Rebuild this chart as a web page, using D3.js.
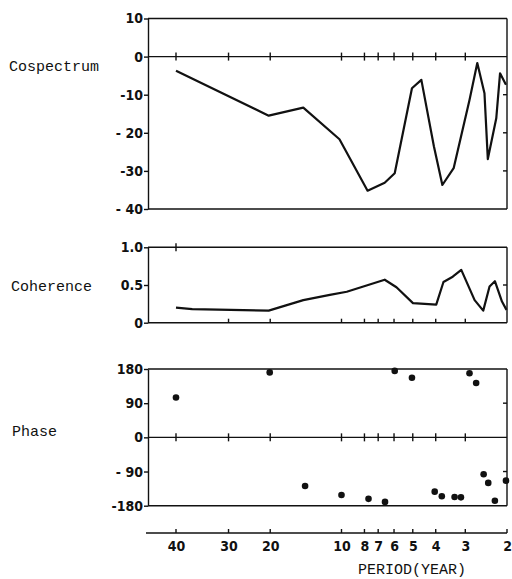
<!DOCTYPE html>
<html>
<head>
<meta charset="utf-8">
<script src="https://cdn.jsdelivr.net/npm/d3@7"></script>
<style>
  body { margin: 0; background: #fff; }
</style>
</head>
<body>
<div id="chart-container"></div>
<script>
// Period axis (log scale). The first printed tick "40" sits where period 50 falls on the log scale
const periodTicks = [50, 30, 20, 10, 8, 7, 6, 5, 4, 3, 2];
const periodLabels = ["40", "30", "20", "10", "8", "7", "6", "5", "4", "3", "2"];

// Cospectrum
const cospPeriod = [50, 20.3, 14.5, 10.2, 7.76, 6.57, 5.96, 5.04, 4.6, 4.07, 3.75, 3.36, 2.88, 2.67, 2.49, 2.41, 2.22, 2.14, 2.02];
const cospValue = [-3.7, -15.5, -13.4, -21.7, -35.2, -33.1, -30.6, -8.3, -6.1, -23.6, -33.7, -29.3, -11.4, -1.7, -9.6, -26.9, -16.2, -4.4, -7.4];
const cospTicks = [10, 0, -10, -20, -30, -40];
const cospTickLabels = ["10", "0", "-10", "- 20", "-30", "- 40"];

// Coherence
const cohPeriod = [50, 42.7, 20.3, 14.5, 11.2, 9.5, 7.72, 6.57, 5.86, 4.99, 3.98, 3.71, 3.39, 3.12, 2.74, 2.52, 2.37, 2.25, 2.10, 2.01];
const cohValue = [0.20, 0.18, 0.16, 0.30, 0.37, 0.41, 0.50, 0.57, 0.47, 0.26, 0.24, 0.54, 0.61, 0.70, 0.30, 0.16, 0.48, 0.55, 0.28, 0.17];
const cohTicks = [1, 0.5, 0];
const cohTickLabels = ["1.0", "0.5", "0"];

// Phase
const phasePeriod = [50, 20.1, 14.25, 10, 7.69, 6.55, 5.96, 5.04, 4.04, 3.77, 3.33, 3.13, 2.88, 2.70, 2.51, 2.40, 2.25, 2.02];
const phaseValue = [105, 171, -128, -152, -162, -170, 175, 157, -143, -155, -157, -158, 169, 143, -97, -120, -167, -114];
const phaseTicks = [180, 90, 0, -90, -180];
const phaseTickLabels = ["180", "90", "0", "- 90", "-180"];

const margin = { top: 0, right: 5, bottom: 0, left: 148 }
const width = 512 - margin.left - margin.right

const svg = d3.select("#chart-container")
  .append("svg")
  .attr("width", 512)
  .attr("height", 579)
  .append("g")
  .attr("transform", `translate(${margin.left},${margin.top})`);

const x = d3.scaleLog()
  .domain([50, 2])
  .range([28, width]);

const ink = "#111";
const frameW = 1.4;
const numFont = '"Liberation Sans Narrow", "DejaVu Sans Condensed", "DejaVu Sans", sans-serif';

function styleNums(g) {
  g.selectAll("text")
    .style("font-family", numFont)
    .style("font-weight", "bold")
    .style("font-stretch", "condensed")
    .style("font-size", "14px")
    .attr("fill", ink);
}

// short vertical ticks at chosen periods, from y1 to y2
function vTicks(values, y1, y2) {
  svg.append("g")
    .selectAll("line")
    .data(values)
    .enter().append("line")
    .attr("x1", d => x(d)).attr("x2", d => x(d))
    .attr("y1", y1).attr("y2", y2)
    .attr("stroke", ink).attr("stroke-width", 1.4);
}

// short horizontal ticks on the right edge, pointing inward
function rTicks(y, values) {
  svg.append("g")
    .selectAll("line")
    .data(values)
    .enter().append("line")
    .attr("x1", width - 4).attr("x2", width)
    .attr("y1", d => y(d)).attr("y2", d => y(d))
    .attr("stroke", ink).attr("stroke-width", 1.4);
}

function hLine(yy, x1) {
  svg.append("line")
    .attr("x1", x1 || 0).attr("x2", width)
    .attr("y1", yy).attr("y2", yy)
    .attr("stroke", ink).attr("stroke-width", frameW);
}

// one boxed panel with left labels, right inner ticks and a zero line with cross ticks
function panel(y, ticks, labels, rightTicks, zero, title, pos) {
  const [y0, y1] = y.range();

  // left axis
  svg.append("g")
    .call(d3.axisLeft(y).tickValues(ticks).tickFormat((d, i) => labels[i])
      .tickSizeInner(4).tickSizeOuter(0).tickPadding(1))
    .call(styleNums)
    .call(g => g.selectAll("line, path").attr("stroke", ink).attr("stroke-width", frameW));

  // right edge
  svg.append("line")
    .attr("x1", width).attr("x2", width)
    .attr("y1", y0).attr("y2", y1)
    .attr("stroke", ink).attr("stroke-width", frameW);
  rTicks(y, rightTicks);

  // top and bottom frame lines
  hLine(y0);
  hLine(y1);

  if (zero !== null) {
    hLine(y(zero));
    vTicks(periodTicks.slice(0, -1), y(zero) - 4, y(zero) + 4);
  }

  // panel title on the left
  svg.append("text")
    .attr("x", pos[0] - margin.left)
    .attr("y", pos[1])
    .style("font-family", '"Liberation Mono", "DejaVu Sans Mono", monospace')
    .style("font-size", "15px")
    .attr("fill", ink)
    .text(title);
}

const line = d3.line().x(d => x(d[0])).y(d => d[1]);

// Cospectrum panel
const yCosp = d3.scaleLinear().domain([-40, 10]).range([209, 18.5]);
panel(yCosp, cospTicks, cospTickLabels, [-10, -20, -30], 0, "Cospectrum", [9, 71]);

svg.append("path")
  .datum(cospPeriod.map((p, i) => [p, yCosp(cospValue[i])]))
  .attr("fill", "none")
  .attr("stroke", ink)
  .attr("stroke-width", 2.2)
  .attr("stroke-linejoin", "round")
  .attr("d", line);

// Coherence panel
const yCoh = d3.scaleLinear().domain([0, 1]).range([322.7, 247.3]);
panel(yCoh, cohTicks, cohTickLabels, [0.5], null, "Coherence", [11, 291]);

// bottom ticks pointing up, one crossing tick on the top line
vTicks(periodTicks.slice(1, -1), yCoh(0) - 4, yCoh(0));
vTicks(periodTicks.slice(0, 1), yCoh(1) - 4, yCoh(1) + 4);

svg.append("path")
  .datum(cohPeriod.map((p, i) => [p, yCoh(cohValue[i])]))
  .attr("fill", "none")
  .attr("stroke", ink)
  .attr("stroke-width", 2.2)
  .attr("stroke-linejoin", "round")
  .attr("d", line);

// Phase panel
const yPhase = d3.scaleLinear().domain([-180, 180]).range([505.7, 369]);
panel(yPhase, phaseTicks, phaseTickLabels, [90, -90], 0, "Phase", [12, 436]);

svg.selectAll(".dot")
  .data(phasePeriod)
  .enter().append("circle")
  .attr("class", "dot")
  .attr("cx", d => x(d))
  .attr("cy", (d, i) => yPhase(phaseValue[i]))
  .attr("r", 3.3)
  .attr("fill", ink);

// Period axis at the bottom
const axisY = 533;
hLine(axisY, -2);
vTicks(periodTicks, axisY - 4, axisY);

svg.append("g")
  .attr("transform", `translate(0,${axisY})`)
  .call(d3.axisBottom(x).tickValues(periodTicks).tickFormat((d, i) => periodLabels[i])
    .tickSizeInner(0).tickSizeOuter(0).tickPadding(8))
  .call(g => g.select(".domain").remove())
  .call(g => g.selectAll("line").remove())
  .call(styleNums);

svg.append("text")
  .attr("x", 358 - margin.left)
  .attr("y", 574)
  .style("font-family", '"Liberation Mono", "DejaVu Sans Mono", monospace')
  .style("font-size", "15px")
  .attr("fill", ink)
  .text("PERIOD(YEAR)");
</script>
</body>
</html>
